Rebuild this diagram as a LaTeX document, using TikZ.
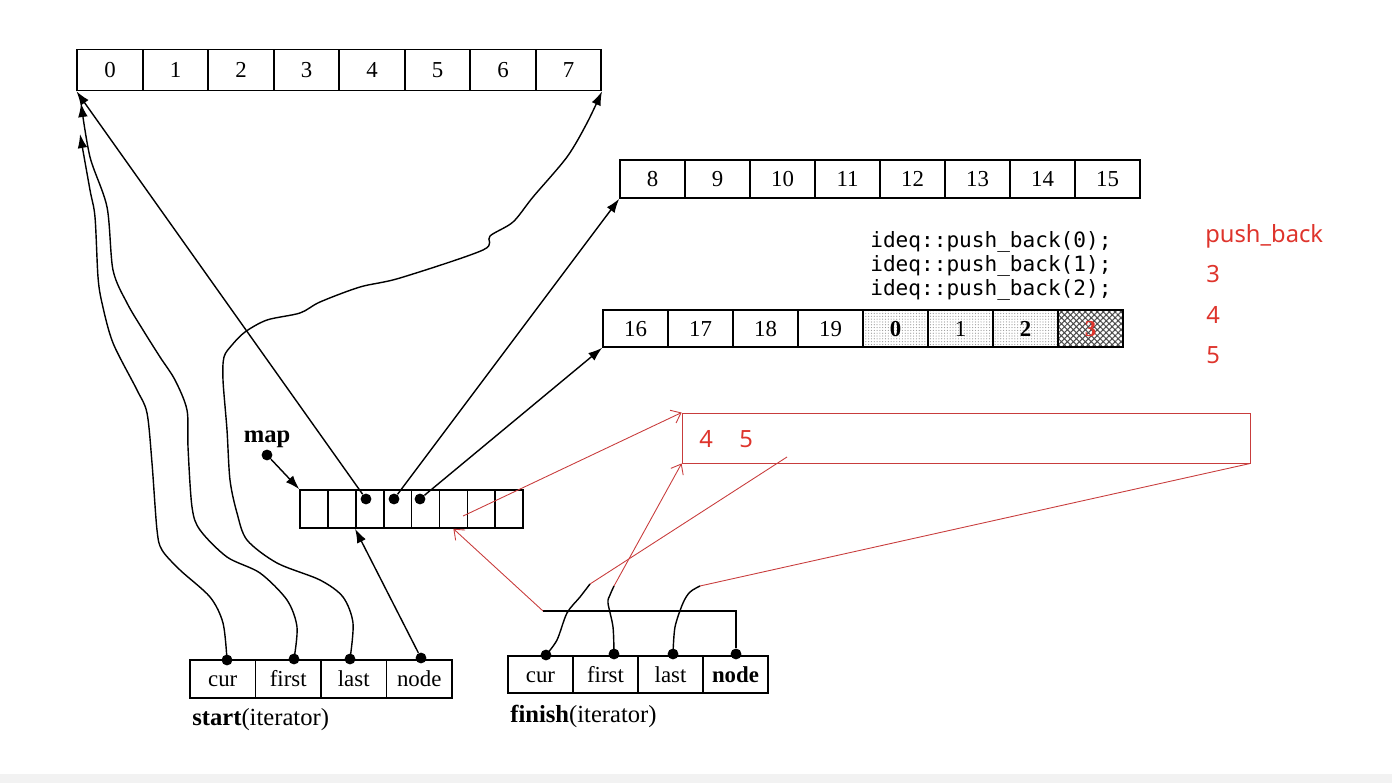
\documentclass[tikz,border=0pt]{standalone}
\usepackage{fontspec}
\setmainfont{Liberation Serif}
\newfontfamily\codefont{DejaVu Sans Mono}
\newfontfamily\notefont{Noto Sans}
\usetikzlibrary{arrows.meta,patterns.meta}
\definecolor{inkred}{RGB}{222,52,44}
\definecolor{penred}{RGB}{200,60,60}

\begin{document}
\begin{tikzpicture}[x=0.02cm,y=-0.02cm,
  cell/.style={draw,line width=0.9pt,minimum width=1.30cm,minimum height=0.76cm,
    inner sep=0pt,text height=9pt,text depth=0pt,font=\fontsize{13}{13}\selectfont},
  slot/.style={draw,line width=0.9pt,minimum width=0.558cm,minimum height=0.76cm,inner sep=0pt},
  dot/.style={circle,fill,inner sep=0pt,minimum size=6.2pt},
  ptr/.style={line width=0.8pt,-{Latex[length=8pt,width=5.5pt]}},
  wire/.style={line width=0.8pt},
  pen/.style={draw=penred,line width=0.5pt},
  penptr/.style={pen,-{Straight Barb[length=5pt,width=8pt]}},
  used/.style={pattern={Dots[radius=0.35pt,distance=1.6pt]},pattern color=black!40},
  spare/.style={pattern={Hatch[angle=45,distance=2.4pt,line width=0.6pt]},pattern color=black!70},
  note/.style={text=inkred,font=\notefont\fontsize{13.5}{14}\selectfont,anchor=west,inner sep=0pt}]
  \useasboundingbox (0,0) rectangle (1392,783);
  \fill[black!5] (0,774) rectangle (1392,783);

  % buffer 0..7
  \node[cell,minimum width=1.31cm,minimum height=0.82cm] (top0) at (110,70) {0};
  \node[cell,minimum width=1.31cm,minimum height=0.82cm] (top1) at (175.5,70) {1};
  \node[cell,minimum width=1.31cm,minimum height=0.82cm] (top2) at (241,70) {2};
  \node[cell,minimum width=1.31cm,minimum height=0.82cm] (top3) at (306.5,70) {3};
  \node[cell,minimum width=1.31cm,minimum height=0.82cm] (top4) at (372,70) {4};
  \node[cell,minimum width=1.31cm,minimum height=0.82cm] (top5) at (437.5,70) {5};
  \node[cell,minimum width=1.31cm,minimum height=0.82cm] (top6) at (503,70) {6};
  \node[cell,minimum width=1.31cm,minimum height=0.82cm] (top7) at (568.5,70) {7};

  % buffer 8..15
  \node[cell] (mid0) at (652.5,179) {8};
  \node[cell] (mid1) at (717.5,179) {9};
  \node[cell] (mid2) at (782.5,179) {10};
  \node[cell] (mid3) at (847.5,179) {11};
  \node[cell] (mid4) at (912.5,179) {12};
  \node[cell] (mid5) at (977.5,179) {13};
  \node[cell] (mid6) at (1042.5,179) {14};
  \node[cell] (mid7) at (1107.5,179) {15};

  % buffer 16..19 + pushed values
  \node[cell,minimum height=0.74cm] (low0) at (635.5,328.5) {16};
  \node[cell,minimum height=0.74cm] (low1) at (700.5,328.5) {17};
  \node[cell,minimum height=0.74cm] (low2) at (765.5,328.5) {18};
  \node[cell,minimum height=0.74cm] (low3) at (830.5,328.5) {19};
  \node[cell,minimum height=0.74cm,used] (low4) at (895.5,328.5) {\textbf{0}};
  \node[cell,minimum height=0.74cm,used] (low5) at (960.5,328.5) {1};
  \node[cell,minimum height=0.74cm,used] (low6) at (1025.5,328.5) {\textbf{2}};
  \node[cell,minimum height=0.74cm,spare,text=inkred] (low7) at (1090.5,328.5) {\textbf{3}};

  \node[anchor=west,align=left,inner sep=0pt,font=\codefont\fontsize{12}{13.6}\selectfont]
    (code) at (870,266) {ideq::push\_back(0);\\ideq::push\_back(1);\\ideq::push\_back(2);};

  \node[note] (n0) at (1205,236) {push\_back};
  \node[note] (n3) at (1206,274) {3};
  \node[note] (n4) at (1206,315) {4};
  \node[note] (n5) at (1206,355) {5};

  % map
  \node[slot] (map0) at (314,509) {};
  \node[slot] (map1) at (341.9,509) {};
  \node[slot] (map2) at (369.8,509) {};
  \node[slot] (map3) at (397.6,509) {};
  \node[slot] (map4) at (425.5,509) {};
  \node[slot] (map5) at (453.4,509) {};
  \node[slot] (map6) at (481.3,509) {};
  \node[slot] (map7) at (509.1,509) {};
  \node[dot] (m2) at (366,499) {};
  \node[dot] (m3) at (394,499) {};
  \node[dot] (m4) at (420,499) {};
  \node[font=\bfseries\fontsize{14}{14}\selectfont] (maplbl) at (267,439) {map};
  \node[dot] (mapdot) at (267,455) {};

  % start iterator
  \node[cell,minimum width=1.31cm] (st-cur) at (222.75,679) {cur};
  \node[cell,minimum width=1.31cm] (st-first) at (288.25,679) {first};
  \node[cell,minimum width=1.31cm] (st-last) at (353.75,679) {last};
  \node[cell,minimum width=1.31cm] (st-node) at (419.25,679) {node};
  \node[dot] (s-cur) at (227,660) {};
  \node[dot] (s-first) at (294,659) {};
  \node[dot] (s-last) at (350,659) {};
  \node[dot] (s-node) at (421,658) {};
  \node[anchor=west,inner sep=0pt,font=\fontsize{14}{14}\selectfont] (startlbl) at (192,720)
    {\textbf{start}(iterator)};

  % finish iterator
  \node[cell,minimum height=0.74cm] (fn-cur) at (540.5,674.5) {cur};
  \node[cell,minimum height=0.74cm] (fn-first) at (605.5,674.5) {first};
  \node[cell,minimum height=0.74cm] (fn-last) at (670.5,674.5) {last};
  \node[cell,minimum height=0.74cm] (fn-node) at (735.5,674.5) {\textbf{node}};
  \node[dot] (f-cur) at (546,655) {};
  \node[dot] (f-first) at (614,654) {};
  \node[dot] (f-last) at (673,654) {};
  \node[dot] (f-node) at (736,654) {};
  \node[anchor=west,inner sep=0pt,font=\fontsize{14}{14}\selectfont] (finishlbl) at (510,716)
    {\textbf{finish}(iterator)};

  % new buffer (hand notes)
  \node[pen,minimum width=11.36cm,minimum height=1.0cm] (buf) at (966,438) {};
  \node[note] (b4) at (699,439) {4};
  \node[note] (b5) at (739,439) {5};

  \coordinate (curtip) at (590,584);
  \coordinate (firsttip) at (614,586);
  \coordinate (lasttip) at (700,586);
  \coordinate (brk) at (543,611);
  \coordinate (bufend) at (787,457);

  % map pointers
  \draw[ptr] (mapdot) -- (map0.north west);
  \draw[ptr] (m2) -- (top0.south west);
  \draw[ptr] (m3) -- (mid0.south west);
  \draw[ptr] (m4) -- (low0.south west);
  \draw[ptr] (s-node) -- (map2.south west);

  % start pointers
  \draw[ptr] plot[smooth,tension=0.5] coordinates {(s-cur) (223,623) (210,597) (180,570)
    (162,550) (157,530) (152,463) (147,413) (137,390) (113,343) (102,303) (98,277)
    (95,217) (90,190) (80,134)};
  \draw[ptr] plot[smooth,tension=0.5] coordinates {(s-first) (297,627) (287,600) (260,573)
    (227,557) (200,530) (192,507) (188,447) (187,410) (175,380) (160,357) (143,330)
    (127,303) (113,270) (107,207) (90,157) (81,103)};
  \draw[ptr] plot[smooth,tension=0.5] coordinates {(s-last) (353,623) (343,597) (320,580)
    (277,563) (247,540) (237,513) (230,480) (227,430) (223,380) (224,357) (232,345)
    (245,332) (267,320) (300,313) (320,302) (360,287) (400,278) (483,250) (490,236)
    (513,222) (533,197) (567,157) (587,123) (top7.south east)};

  % finish pointers
  \draw[wire] plot[smooth] coordinates {(f-cur) (557,640) (567,613) (580,597) (curtip)};
  \draw[wire] plot[smooth] coordinates {(f-first) (613,627) (608,603) (610,595) (firsttip)};
  \draw[wire] plot[smooth] coordinates {(f-last) (675,627) (683,603) (690,592) (lasttip)};
  \draw[wire] (f-node) |- (brk);

  % red pen strokes
  \draw[penptr] ([shift={(5.5pt,-4pt)}]map5.center) -- (buf.north west);
  \draw[penptr] (brk) -- (map5.south);
  \draw[penptr] (firsttip) -- (buf.south west);
  \draw[pen] (curtip) -- (bufend);
  \draw[pen] (lasttip) -- (buf.south east);
\end{tikzpicture}
\end{document}
